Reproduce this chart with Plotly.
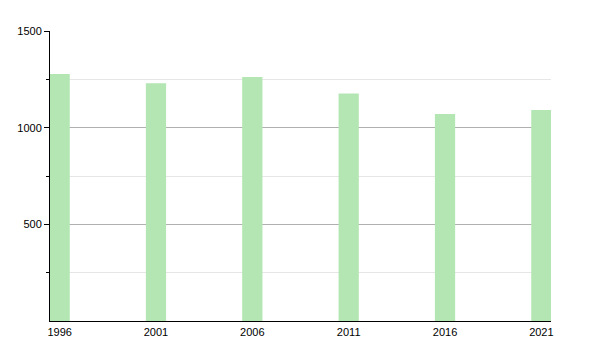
import plotly.graph_objects as go

years = [1996, 2001, 2006, 2011, 2016, 2021]
population = [1278, 1230, 1262, 1177, 1071, 1091]
y_ticks = [500, 1000, 1500]
y_minor = [250, 750, 1250]

fig = go.Figure()
fig.add_trace(go.Bar(
    x=[y + 0.5 for y in years],
    y=population,
    width=1.05,
    marker=dict(color="#b3e6b3", line=dict(width=0)),
))

fig.update_layout(
    width=600, height=350,
    margin=dict(l=50, r=49, t=31, b=29),
    paper_bgcolor="white", plot_bgcolor="white",
    showlegend=False,
    font=dict(family="Liberation Sans, Arial, sans-serif", size=11, color="black"),
    xaxis=dict(
        range=[1996, 2022],
        tickvals=[y + 0.5 for y in years],
        ticktext=[str(y) for y in years],
        showgrid=False, zeroline=False,
        showline=True, linecolor="black", linewidth=1,
        ticks="", ticklabelstandoff=1,
    ),
    yaxis=dict(
        range=[0, 1500],
        tickvals=y_ticks,
        showgrid=True, gridcolor="#b0b0b0", gridwidth=1,
        zeroline=False,
        showline=True, linecolor="black", linewidth=1,
        ticks="outside", ticklen=5, tickcolor="black",
        minor=dict(tickvals=y_minor, ticks="outside", ticklen=3, tickcolor="black",
                   showgrid=True, gridcolor="#e6e6e6", gridwidth=1),
    ),
)

fig.write_html("out.html")
